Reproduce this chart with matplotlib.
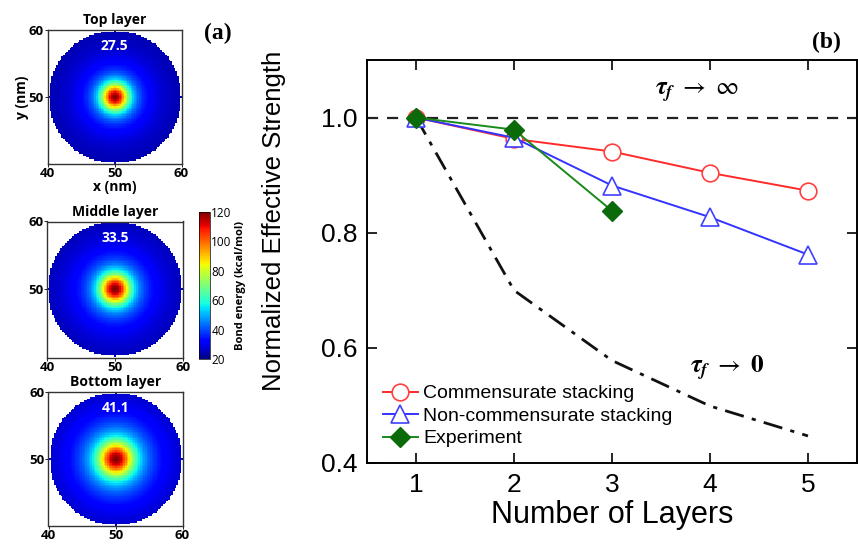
import numpy as np
import matplotlib
matplotlib.use('Agg')
import matplotlib.pyplot as plt
from matplotlib.font_manager import FontProperties

# ---- data (b) ----
layers = [1, 2, 3, 4, 5]
commensurate = [1.0, 0.963, 0.941, 0.904, 0.873]
noncommensurate = [1.0, 0.965, 0.882, 0.827, 0.762]
exp_layers = [1, 2, 3]
experiment = [1.0, 0.979, 0.838]
tau_zero = [1.0, 0.70, 0.578, 0.499, 0.447]
tau_inf = 1.0

# ---- data (a) ----
layer_titles = ['Top layer', 'Middle layer', 'Bottom layer']
layer_energy = ['27.5', '33.5', '41.1']
base_energy = [22, 22, 22]
peak_energy = [120, 120, 120]
core_width = [1.35, 1.45, 1.7]     # nm
halo_width = [2.6, 2.9, 3.4]       # nm
halo_energy = [25, 26, 28]
outer_width = [6.0, 6.5, 7.0]      # nm
outer_energy = [10, 11, 13]

plt.rcParams['font.family'] = ['Liberation Sans', 'DejaVu Sans']
plt.rcParams['mathtext.fontset'] = 'stix'

fig = plt.figure(figsize=(8.58, 5.46), dpi=100)
W, H = 858.0, 546.0

def ax_px(x0, y0, x1, y1):
    return fig.add_axes([x0 / W, 1 - y1 / H, (x1 - x0) / W, (y1 - y0) / H])

# ---- panel (a) heat maps ----
g = np.linspace(40, 60, 81)
X, Y = np.meshgrid(g, g)
R2 = (X - 50) ** 2 + (Y - 50) ** 2

boxes = [(46, 30, 183, 164), (47, 220, 183, 359), (47, 392, 184, 526)]
lbl_font = dict(family=['Open Sans', 'DejaVu Sans'], weight='bold')
tick_fp = FontProperties(family='Open Sans', weight='bold', size=9.5)
for i, b in enumerate(boxes):
    ax = ax_px(*b)
    core = peak_energy[i] - base_energy[i] - halo_energy[i] - outer_energy[i]
    E = (base_energy[i]
         + outer_energy[i] * np.exp(-R2 / (2 * outer_width[i] ** 2))
         + halo_energy[i] * np.exp(-R2 / (2 * halo_width[i] ** 2))
         + core * np.exp(-R2 / (2 * core_width[i] ** 2)))
    E = np.ma.masked_where(R2 > 100, E)
    im = ax.imshow(E, cmap='jet', vmin=20, vmax=120, origin='lower',
                   extent=[40, 60, 40, 60], interpolation='nearest')
    ax.set_xlim(40, 60)
    ax.set_ylim(40, 60)
    ax.set_xticks([40, 50, 60])
    ax.set_yticks([50, 60])
    ax.tick_params(length=2, width=0.6, pad=0.5)
    for t in ax.get_xticklabels() + ax.get_yticklabels():
        t.set_fontproperties(tick_fp)
    for s in ax.spines.values():
        s.set_linewidth(1.0)
        s.set_color('#333333')
    ax.set_title(layer_titles[i], fontsize=10, pad=4, **lbl_font)
    ax.text(50, 57.6, layer_energy[i], color='white', ha='center', va='center',
            fontsize=10, **lbl_font)
    if i == 0:
        ax.set_xlabel('x (nm)', fontsize=10, labelpad=0, **lbl_font)
        ax.set_ylabel('y (nm)', fontsize=10, labelpad=0, **lbl_font)

cax = ax_px(199, 212, 210, 359)
cb = fig.colorbar(im, cax=cax, ticks=[20, 40, 60, 80, 100, 120])
cb.outline.set_linewidth(0.5)
cax.tick_params(length=0, pad=1)
for t in cax.get_yticklabels():
    t.set_fontproperties(FontProperties(family='Open Sans', size=8.5))
cb.set_label('Bond energy (kcal/mol)', fontsize=8, labelpad=2, **lbl_font)

fig.text(218 / W, 1 - 33 / H, '(a)', family='Liberation Serif', weight='bold',
         fontsize=17, ha='center', va='center')
fig.text(826 / W, 1 - 42 / H, '(b)', family='Liberation Serif', weight='bold',
         fontsize=17, ha='center', va='center')

# ---- panel (b) ----
ax = ax_px(367, 60, 857, 463)
ax.axhline(tau_inf, color='#222222', lw=1.6, ls=(0, (5, 4)))
ax.plot(layers, tau_zero, color='#111111', lw=2.0, ls=(0, (7, 3, 1.5, 3)))
ax.plot(layers, commensurate, color='#ff2a2a', lw=1.4, marker='o', ms=12,
        mfc='white', mec='#ff4040', mew=1.2, label='Commensurate stacking')
ax.plot(layers, noncommensurate, color='#3333ff', lw=1.4, marker='^', ms=12.5,
        mfc='white', mec='#4040ff', mew=1.2, label='Non-commensurate stacking')
ax.plot(exp_layers, experiment, color='#1a8a1a', lw=1.4, marker='D', ms=10.5,
        mfc='#0b6b0b', mec='#0b6b0b', label='Experiment')

ax.set_xlim(0.5, 5.5)
ax.set_ylim(0.4, 1.1)
ax.set_xticks(layers)
ax.set_yticks([0.4, 0.6, 0.8, 1.0])
ax.set_yticklabels(['0.4', '0.6', '0.8', '1.0'])
ax.tick_params(direction='in', length=7, width=1.2, labelsize=19, top=True, right=True, pad=7)
for s in ax.spines.values():
    s.set_linewidth(1.4)
ax.set_xlabel('Number of Layers', fontsize=22, labelpad=2)
ax.set_ylabel('Normalized Effective Strength', fontsize=18.5, labelpad=10)
ax.yaxis.set_label_coords(-0.165, 0.6)

ax.text(3.87, 1.042, r'$\mathbfit{\tau_f}\ \rightarrow\ \infty$', fontsize=18, ha='center', va='center')
ax.text(4.17, 0.565, r'$\mathbfit{\tau_f}\ \rightarrow\ \mathbf{0}$', fontsize=18, ha='center', va='center')

leg = ax.legend(loc='lower left', bbox_to_anchor=(0.0, 0.0), frameon=False, fontsize=14,
                handlelength=1.8, handletextpad=0.3, labelspacing=0.25, borderaxespad=0.5,
                borderpad=0.3)

plt.savefig('out.png', dpi=100)
